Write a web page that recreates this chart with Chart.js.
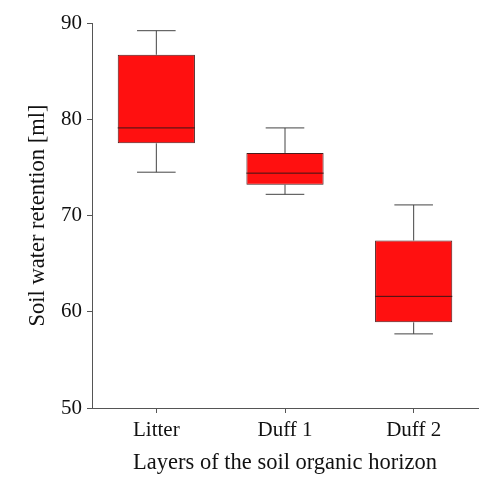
<!DOCTYPE html>
<html>
<head>
<meta charset="utf-8">
<script src="https://cdn.jsdelivr.net/npm/chart.js@4"></script>
<style>
  body { margin: 0; background: #fff; }
</style>
</head>
<body>
<canvas id="boxChart" width="489" height="487"></canvas>
<script>
const categories = ['Litter', 'Duff 1', 'Duff 2'];
const whiskerMax = [89.2, 79.1, 71.1];
const q3 = [86.7, 76.5, 67.4];
const median = [79.1, 74.4, 61.6];
const q1 = [77.5, 73.2, 58.9];
const whiskerMin = [74.5, 72.2, 57.7];
const yTicks = [50, 60, 70, 80, 90];

const axisColor = '#555';
const serif = 'Liberation Serif';

// whiskers and median lines drawn on top of the floating bars
const boxPlugin = {
  id: 'boxWhiskers',
  afterDatasetsDraw(chart) {
    const ctx = chart.ctx;
    const y = chart.scales.y;
    const meta = chart.getDatasetMeta(0);
    ctx.save();
    meta.data.forEach((bar, i) => {
      const x = bar.x;
      const half = bar.width / 2;
      const cap = bar.width / 4;
      ctx.lineWidth = 1;
      ctx.strokeStyle = '#444';
      ctx.beginPath();
      ctx.moveTo(x, y.getPixelForValue(q3[i]));
      ctx.lineTo(x, y.getPixelForValue(whiskerMax[i]));
      ctx.moveTo(x - cap, y.getPixelForValue(whiskerMax[i]));
      ctx.lineTo(x + cap, y.getPixelForValue(whiskerMax[i]));
      ctx.moveTo(x, y.getPixelForValue(q1[i]));
      ctx.lineTo(x, y.getPixelForValue(whiskerMin[i]));
      ctx.moveTo(x - cap, y.getPixelForValue(whiskerMin[i]));
      ctx.lineTo(x + cap, y.getPixelForValue(whiskerMin[i]));
      ctx.stroke();
      ctx.strokeStyle = '#3a1616';
      ctx.beginPath();
      ctx.moveTo(x - half, y.getPixelForValue(median[i]));
      ctx.lineTo(x + half, y.getPixelForValue(median[i]));
      ctx.stroke();
    });
    ctx.restore();
  }
};

const ctx = document.getElementById('boxChart').getContext('2d');
const boxChart = new Chart(ctx, {
  type: 'bar',
  data: {
    labels: categories,
    datasets: [{
      data: categories.map((c, i) => [q1[i], q3[i]]),
      backgroundColor: 'rgb(255, 16, 16)',
      borderColor: '#4a1c1c',
      borderWidth: 1,
      borderSkipped: false,
      barPercentage: 0.6,
      categoryPercentage: 1
    }]
  },
  plugins: [boxPlugin],
  options: {
    responsive: false,
    animation: false,
    layout: { padding: { top: 23, right: 11, left: 0, bottom: 0 } },
    plugins: { legend: { display: false }, tooltip: { enabled: false } },
    scales: {
      x: {
        offset: true,
        grid: { display: true, offset: false, drawOnChartArea: false, drawTicks: true, tickLength: 5, color: axisColor },
        border: { display: true, color: axisColor },
        ticks: { color: '#111', padding: 5, font: { family: serif, size: 21 } },
        title: {
          display: true,
          text: 'Layers of the soil organic horizon',
          color: '#111',
          font: { family: serif, size: 22.5 },
          padding: { top: 4, bottom: 10 }
        },
        afterFit(scale) { scale.height = 79; }
      },
      y: {
        min: 50,
        max: 90,
        afterBuildTicks(scale) { scale.ticks = yTicks.map(v => ({ value: v })); },
        grid: { display: true, drawOnChartArea: false, drawTicks: true, tickLength: 5, color: axisColor },
        border: { display: true, color: axisColor },
        ticks: { color: '#111', padding: 5, font: { family: serif, size: 21 } },
        title: {
          display: true,
          text: 'Soil water retention [ml]',
          color: '#111',
          font: { family: serif, size: 22.5 },
          padding: { top: 25, bottom: 0 }
        },
        afterFit(scale) { scale.width = 92; }
      }
    }
  }
});
</script>
</body>
</html>
